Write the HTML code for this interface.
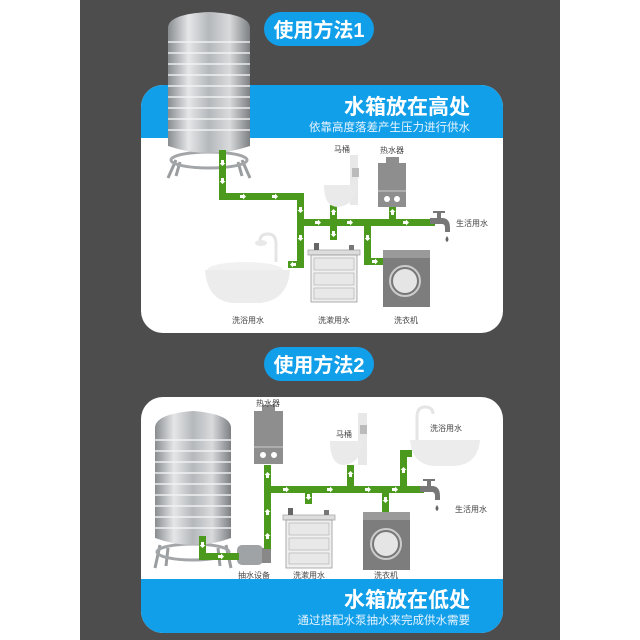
<!DOCTYPE html>
<html><head><meta charset="utf-8"><style>
html,body{margin:0;padding:0;background:#fff;}
svg{display:block}
text{font-family:"Liberation Sans","Noto Sans CJK SC",sans-serif;}
</style></head><body>
<svg width="640" height="640" viewBox="0 0 640 640" xmlns="http://www.w3.org/2000/svg">
<defs>
<linearGradient id="steel" x1="0" x2="1" y1="0" y2="0">
<stop offset="0" stop-color="#8a8d90"/><stop offset="0.25" stop-color="#e4e6e8"/>
<stop offset="0.5" stop-color="#b5b8bb"/><stop offset="0.75" stop-color="#d8dadc"/><stop offset="1" stop-color="#7d8083"/>
</linearGradient>
<g id="arrR"><path d="M-3,-1.5 h3 v-1.5 l3,3 l-3,3 v-1.5 h-3z" fill="#fff"/></g>
<g id="arrD"><path d="M-1.5,-3 v3 h-1.5 l3,3 l3,-3 h-1.5 v-3z" fill="#fff"/></g>
<g id="arrU"><path d="M-1.5,3 v-3 h-1.5 l3,-3 l3,3 h-1.5 v3z" fill="#fff"/></g>
<g id="arrL"><path d="M3,-1.5 h-3 v-1.5 l-3,3 l3,3 v-1.5 h3z" fill="#fff"/></g>
</defs>
<rect x="80" y="0" width="480" height="640" fill="#4d4d4d"/>

<!-- pill 1 -->
<rect x="264" y="12" width="110" height="34" rx="17" fill="#129fe9"/>
<text x="319" y="37" font-size="20" font-weight="bold" fill="#fff" text-anchor="middle">使用方法1</text>

<!-- card 1 -->
<rect x="141" y="85" width="362" height="248" rx="22" fill="#fff"/>
<path d="M141,138 V107 a22,22 0 0 1 22,-22 H481 a22,22 0 0 1 22,22 V138 Z" fill="#129fe9"/>
<text x="470" y="114" font-size="21" font-weight="bold" fill="#fff" text-anchor="end">水箱放在高处</text>
<text x="470" y="131" font-size="11.5" fill="#e6f4ff" text-anchor="end">依靠高度落差产生压力进行供水</text>

<!-- tank 1 -->
<g>
<path d="M176,160 L168,178 M180,162 L176,176 M242,160 L250,178 M238,162 L242,176" stroke="#9a9d9f" stroke-width="3" fill="none"/>
<ellipse cx="209" cy="160" rx="38" ry="8" fill="none" stroke="#a3a6a8" stroke-width="3"/>
<path d="M168,28 Q168,14 209,12 Q250,14 250,28 V146 Q209,160 168,146 Z" fill="url(#steel)"/>
<g stroke="#f4f5f6" stroke-width="1.5" opacity="0.9">
<line x1="168" y1="42" x2="250" y2="42"/><line x1="168" y1="53" x2="250" y2="53"/><line x1="168" y1="64" x2="250" y2="64"/>
<line x1="168" y1="75" x2="250" y2="75"/><line x1="168" y1="86" x2="250" y2="86"/><line x1="168" y1="97" x2="250" y2="97"/>
<line x1="168" y1="108" x2="250" y2="108"/><line x1="168" y1="119" x2="250" y2="119"/><line x1="168" y1="130" x2="250" y2="130"/>
</g>
</g>

<!-- pipes card1 -->
<g fill="#4b9a1d">
<rect x="219" y="150" width="7" height="49"/>
<rect x="219" y="193" width="85" height="7"/>
<rect x="297" y="193" width="7" height="75"/>
<rect x="288" y="261" width="16" height="7"/>
<rect x="297" y="219" width="138" height="7"/>
<rect x="330" y="205" width="7" height="18"/>
<rect x="389" y="205" width="7" height="18"/>
<rect x="330" y="222" width="7" height="18"/>
<rect x="364" y="222" width="7" height="43"/>
<rect x="364" y="258" width="20" height="7"/>
</g>
<g>
<use href="#arrD" x="222.5" y="163"/><use href="#arrD" x="222.5" y="181"/>
<use href="#arrR" x="243" y="196.5"/><use href="#arrR" x="275" y="196.5"/>
<use href="#arrD" x="300.5" y="210"/><use href="#arrD" x="300.5" y="238"/>
<use href="#arrL" x="293" y="264.5"/>
<use href="#arrR" x="318" y="222.5"/><use href="#arrR" x="350" y="222.5"/><use href="#arrR" x="406" y="222.5"/>
<use href="#arrU" x="333.5" y="212"/><use href="#arrU" x="392.5" y="212"/>
<use href="#arrD" x="333.5" y="234"/><use href="#arrD" x="367.5" y="238"/><use href="#arrR" x="375" y="261.5"/>
</g>
<!-- toilet 1 -->
<path d="M350,155 h8 v50 h-8z" fill="#e8e8e8"/>
<rect x="352" y="168" width="7" height="9" fill="#bbb"/>
<path d="M324,185 h32 q0,20 -18,22 q-14,0 -14,-22z" fill="#eaeaea"/>
<text x="342" y="152" font-size="8" fill="#444" text-anchor="middle">马桶</text>
<!-- heater 1 -->
<rect x="386" y="157" width="13" height="6" fill="#8e8e8e"/>
<rect x="378" y="163" width="28" height="44" fill="#8e8e8e"/>
<line x1="378" y1="191" x2="406" y2="191" stroke="#ccc" stroke-width="1"/>
<circle cx="387" cy="199" r="3" fill="#fff"/><circle cx="397" cy="199" r="3" fill="#fff"/>
<text x="392" y="153" font-size="8" fill="#444" text-anchor="middle">热水器</text>
<!-- tap 1 -->
<path d="M430,218 h12 q8,0 8,10 v4 h-5 v-4 q0,-4 -3,-4 h-12z" fill="#777"/>
<rect x="437" y="212" width="4" height="7" fill="#777"/><rect x="433" y="211" width="12" height="2" fill="#777"/>
<path d="M447,236 q-3,4 0,6 q3,-2 0,-6z" fill="#666"/>
<text x="456" y="226" font-size="8" fill="#444">生活用水</text>
<!-- bath 1 -->
<path d="M276,262 v-18 q0,-10 -8,-10 q-8,0 -8,7" stroke="#e5e5e5" stroke-width="3" fill="none"/>
<ellipse cx="261" cy="243" rx="6" ry="3" fill="#e8e8e8"/>
<ellipse cx="245" cy="270" rx="38" ry="8" fill="#f1f1f1"/>
<path d="M205,270 h85 q-2,30 -30,33 h-28 q-25,-3 -27,-33z" fill="#ececec"/>
<text x="248" y="323" font-size="8" fill="#444" text-anchor="middle">洗浴用水</text>
<!-- sink 1 -->
<rect x="308" y="250" width="52" height="5" fill="#ddd" stroke="#aaa" stroke-width="0.8"/>
<rect x="311" y="255" width="46" height="47" fill="#f0f0f0" stroke="#999" stroke-width="0.8"/>
<rect x="314" y="258" width="40" height="12" fill="#e8e8e8" stroke="#aaa" stroke-width="0.6"/>
<rect x="314" y="273" width="40" height="12" fill="#e8e8e8" stroke="#aaa" stroke-width="0.6"/>
<rect x="314" y="288" width="40" height="11" fill="#e8e8e8" stroke="#aaa" stroke-width="0.6"/>
<rect x="314" y="243" width="5" height="7" fill="#666"/><rect x="349" y="245" width="5" height="5" fill="#777"/>
<text x="334" y="323" font-size="8" fill="#444" text-anchor="middle">洗漱用水</text>
<!-- washer 1 -->
<rect x="383" y="250" width="47" height="57" fill="#7d7d7d"/>
<rect x="383" y="250" width="47" height="8" fill="#9a9a9a"/>
<circle cx="405" cy="281" r="15" fill="#777" stroke="#ccc" stroke-width="2"/>
<circle cx="405" cy="281" r="12" fill="#e5e5e5"/>
<text x="406" y="323" font-size="8" fill="#444" text-anchor="middle">洗衣机</text>

<!-- pill 2 -->
<rect x="264" y="347" width="110" height="34" rx="17" fill="#129fe9"/>
<text x="319" y="372" font-size="20" font-weight="bold" fill="#fff" text-anchor="middle">使用方法2</text>

<!-- card 2 -->
<rect x="141" y="397" width="362" height="236" rx="22" fill="#fff"/>
<path d="M141,579 H503 V611 a22,22 0 0 1 -22,22 H163 a22,22 0 0 1 -22,-22 Z" fill="#129fe9"/>
<text x="470" y="607" font-size="21" font-weight="bold" fill="#fff" text-anchor="end">水箱放在低处</text>
<text x="470" y="624" font-size="11.5" fill="#e6f4ff" text-anchor="end">通过搭配水泵抽水来完成供水需要</text>

<!-- tank 2 -->
<path d="M160,545 L155,568 M168,548 L166,566 M226,545 L231,568 M218,548 L220,566" stroke="#9a9d9f" stroke-width="3" fill="none"/>
<ellipse cx="193" cy="552" rx="36" ry="8" fill="none" stroke="#a3a6a8" stroke-width="3"/>
<path d="M155,428 Q155,414 193,411 Q231,414 231,428 V538 Q193,552 155,538 Z" fill="url(#steel)"/>
<g stroke="#f4f5f6" stroke-width="1.5" opacity="0.9">
<line x1="155" y1="440" x2="231" y2="440"/><line x1="155" y1="451" x2="231" y2="451"/><line x1="155" y1="462" x2="231" y2="462"/>
<line x1="155" y1="473" x2="231" y2="473"/><line x1="155" y1="484" x2="231" y2="484"/><line x1="155" y1="495" x2="231" y2="495"/>
<line x1="155" y1="506" x2="231" y2="506"/><line x1="155" y1="517" x2="231" y2="517"/><line x1="155" y1="528" x2="231" y2="528"/>
</g>
<!-- pump -->
<rect x="237" y="545" width="26" height="20" rx="5" fill="#9fa3a6"/>
<rect x="262" y="548" width="9" height="15" fill="#888"/>
<text x="254" y="578" font-size="8" fill="#444" text-anchor="middle">抽水设备</text>

<!-- pipes card2 -->
<g fill="#4b9a1d">
<rect x="199" y="536" width="7" height="24"/>
<rect x="199" y="553" width="40" height="7"/>
<rect x="264" y="465" width="7" height="84"/>
<rect x="264" y="486" width="160" height="7"/>
<rect x="347" y="465" width="7" height="24"/>
<rect x="400" y="450" width="7" height="40"/>
<rect x="400" y="450" width="12" height="7"/>
<rect x="305" y="490" width="7" height="14"/>
<rect x="382" y="490" width="7" height="22"/>
</g>
<g>
<use href="#arrD" x="202.5" y="545"/><use href="#arrR" x="221" y="556.5"/>
<use href="#arrU" x="267.5" y="536"/><use href="#arrU" x="267.5" y="512"/><use href="#arrU" x="267.5" y="475"/>
<use href="#arrR" x="286" y="489.5"/><use href="#arrR" x="330" y="489.5"/><use href="#arrR" x="368" y="489.5"/><use href="#arrR" x="395" y="489.5"/>
<use href="#arrU" x="350.5" y="474"/><use href="#arrU" x="403.5" y="470"/>
<use href="#arrD" x="308.5" y="497"/><use href="#arrD" x="385.5" y="500"/>
</g>
<!-- heater 2 -->
<rect x="262" y="405" width="13" height="6" fill="#8e8e8e"/>
<rect x="254" y="411" width="29" height="53" fill="#8e8e8e"/>
<line x1="254" y1="447" x2="283" y2="447" stroke="#ccc" stroke-width="1"/>
<circle cx="263" cy="455" r="3" fill="#fff"/><circle cx="274" cy="455" r="3" fill="#fff"/>
<text x="268" y="406" font-size="8" fill="#444" text-anchor="middle">热水器</text>
<!-- toilet 2 -->
<path d="M358,413 h9 v52 h-9z" fill="#e8e8e8"/>
<rect x="360" y="425" width="7" height="9" fill="#bbb"/>
<path d="M330,441 h32 q0,22 -18,24 q-14,0 -14,-24z" fill="#eaeaea"/>
<text x="344" y="437" font-size="8" fill="#444" text-anchor="middle">马桶</text>
<!-- bath 2 -->
<path d="M417,445 v-28 q0,-10 8,-10 q8,0 8,7" stroke="#e5e5e5" stroke-width="3" fill="none"/>
<path d="M410,440 h70 q-2,24 -25,26 h-22 q-21,-2 -23,-26z" fill="#ececec"/>
<text x="446" y="431" font-size="8" fill="#444" text-anchor="middle">洗浴用水</text>
<!-- tap 2 -->
<path d="M420,486 h12 q8,0 8,10 v4 h-5 v-4 q0,-4 -3,-4 h-12z" fill="#777"/>
<rect x="427" y="480" width="4" height="7" fill="#777"/><rect x="423" y="479" width="12" height="2" fill="#777"/>
<path d="M437,505 q-3,4 0,6 q3,-2 0,-6z" fill="#666"/>
<text x="455" y="512" font-size="8" fill="#444">生活用水</text>
<!-- sink 2 -->
<rect x="283" y="515" width="52" height="5" fill="#ddd" stroke="#aaa" stroke-width="0.8"/>
<rect x="286" y="520" width="46" height="48" fill="#f0f0f0" stroke="#999" stroke-width="0.8"/>
<rect x="289" y="523" width="40" height="12" fill="#e8e8e8" stroke="#aaa" stroke-width="0.6"/>
<rect x="289" y="538" width="40" height="12" fill="#e8e8e8" stroke="#aaa" stroke-width="0.6"/>
<rect x="289" y="553" width="40" height="11" fill="#e8e8e8" stroke="#aaa" stroke-width="0.6"/>
<rect x="288" y="508" width="5" height="7" fill="#666"/><rect x="324" y="510" width="5" height="5" fill="#777"/>
<text x="309" y="578" font-size="8" fill="#444" text-anchor="middle">洗漱用水</text>
<!-- washer 2 -->
<rect x="363" y="512" width="47" height="58" fill="#7d7d7d"/>
<rect x="363" y="512" width="47" height="8" fill="#9a9a9a"/>
<circle cx="386" cy="544" r="15" fill="#777" stroke="#ccc" stroke-width="2"/>
<circle cx="386" cy="544" r="12" fill="#e5e5e5"/>
<text x="386" y="578" font-size="8" fill="#444" text-anchor="middle">洗衣机</text>
</svg>
</body></html>
